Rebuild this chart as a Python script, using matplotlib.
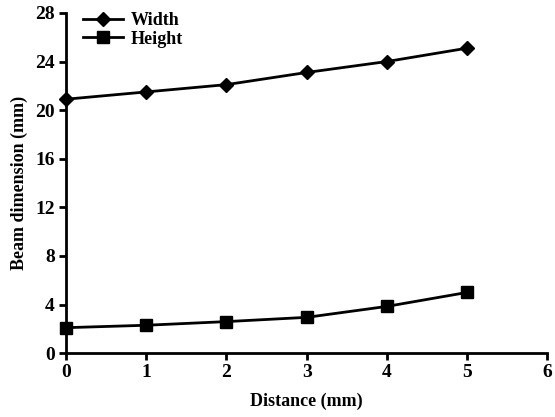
import matplotlib.pyplot as plt

# Datos
distance = [0, 1, 2, 3, 4, 5]
width = [20.9, 21.5, 22.1, 23.1, 24.0, 25.1]
height = [2.1, 2.3, 2.6, 2.95, 3.85, 5.0]

plt.rcParams['font.family'] = 'Liberation Serif'
plt.rcParams['font.weight'] = 'bold'

fig = plt.figure(figsize=(5.55, 4.17), dpi=100)
ax = fig.add_axes([0.119, 0.153, 0.867, 0.816])

ax.plot(distance, width, color='black', lw=2, marker='D', ms=7, label='Width', clip_on=False)
ax.plot(distance, height, color='black', lw=2, marker='s', ms=8, label='Height', clip_on=False)

ax.set_xlim(0, 6)
ax.set_ylim(0, 28)
ax.set_xticks(range(0, 7))
ax.set_yticks(range(0, 29, 4))

for s in ['top', 'right']:
    ax.spines[s].set_visible(False)
for s in ['left', 'bottom']:
    ax.spines[s].set_linewidth(2)
ax.tick_params(width=2, length=5, labelsize=14, pad=3)

ax.set_xlabel('Distance (mm)', fontsize=13, fontweight='bold', labelpad=8)
ax.set_ylabel('Beam dimension (mm)', fontsize=13, fontweight='bold', labelpad=5)

ax.legend(loc='upper left', frameon=False, fontsize=13, bbox_to_anchor=(0.01, 1.04),
          handlelength=2.2, handletextpad=0.4, labelspacing=0.1, borderaxespad=0.3)

plt.savefig('out.png', dpi=100)
